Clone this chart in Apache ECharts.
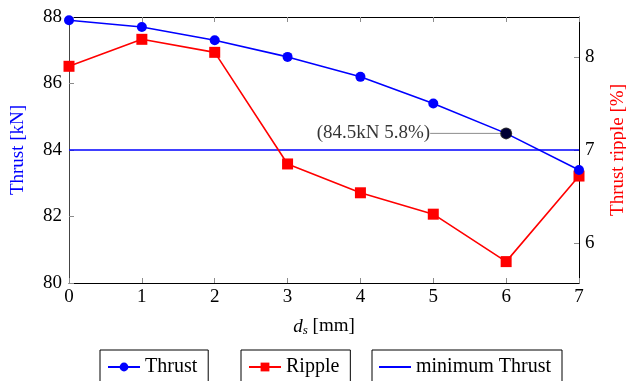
<!DOCTYPE html>
<html>
<head>
<meta charset="utf-8">
<script src="https://cdn.jsdelivr.net/npm/echarts@6/dist/echarts.min.js"></script>
<style>
  html, body { margin: 0; padding: 0; background: #fff; }
  #chart { width: 626px; height: 381px; }
</style>
</head>
<body>
<div id="chart"></div>
<script>
// Air-gap offset d_s in mm
const offsets = [0, 1, 2, 3, 4, 5, 6, 7];
// Mean thrust in kN
const thrust = [87.9, 87.7, 87.3, 86.8, 86.2, 85.4, 84.5, 83.4];
// Thrust ripple in %
const ripple = [7.90, 8.19, 8.05, 6.85, 6.54, 6.31, 5.8, 6.72];
// Required minimum thrust in kN
const minimumThrust = 84;
// Chosen design point
const chosenOffset = 6;
const chosenThrust = 84.5;
const chosenRipple = 5.8;
// Tick values
const thrustTicks = [80, 82, 84, 86, 88];
const rippleTicks = [6, 7, 8];

const FONT = '"Liberation Serif", "Times New Roman", serif';
const FS = 19;

const chart = echarts.init(document.getElementById('chart'), null, { renderer: 'canvas' });

const tickStyle = { color: '#8c8c8c', width: 1 };
const legendBase = {
  top: 350,
  padding: [7, 11, 8, 7], itemWidth: 32, itemHeight: 11, itemGap: 6,
  borderColor: '#000', borderWidth: 1, borderRadius: 0,
  textStyle: { fontFamily: FONT, fontSize: 20, color: '#000' }
};

chart.setOption({
  animation: false,
  textStyle: { fontFamily: FONT, fontSize: FS, color: '#000' },
  grid: { left: 69, right: 47, top: 17, bottom: 98, containLabel: false, outerBoundsMode: 'none' },
  legend: [
    Object.assign({}, legendBase, { data: ['Thrust'], left: 100 }),
    Object.assign({}, legendBase, { data: ['Ripple'], left: 241 }),
    Object.assign({}, legendBase, {
      data: [{ name: 'minimum Thrust', icon: 'rect' }], left: 372, itemHeight: 2
    })
  ],
  xAxis: [
    {
      type: 'value', min: 0, max: 7, interval: 1, position: 'bottom',
      name: '{i|d}{s|s} [mm]', nameLocation: 'middle', nameGap: 33,
      nameTextStyle: {
        fontFamily: FONT, fontSize: FS, color: '#000',
        rich: {
          i: { fontFamily: FONT, fontSize: FS, fontStyle: 'italic', color: '#000' },
          s: { fontFamily: FONT, fontSize: 13, fontStyle: 'italic', color: '#000', verticalAlign: 'bottom', padding: [8, 0, 0, 0] }
        }
      },
      axisLine: { show: true, onZero: false, lineStyle: { color: '#000', width: 1 } },
      axisTick: { show: true, inside: true, length: 5, lineStyle: tickStyle },
      axisLabel: { show: true, margin: 5, fontFamily: FONT, fontSize: FS, color: '#000' },
      splitLine: { show: false }
    },
    {
      type: 'value', min: 0, max: 7, interval: 1, position: 'top',
      axisLine: { show: true, onZero: false, lineStyle: { color: '#000', width: 1 } },
      axisTick: { show: true, inside: true, length: 5, lineStyle: tickStyle },
      axisLabel: { show: false },
      splitLine: { show: false }
    }
  ],
  yAxis: [
    {
      type: 'value', min: 80, max: 88, interval: 2, position: 'left',
      name: 'Thrust [kN]', nameLocation: 'middle', nameGap: 41, nameRotate: 90,
      nameTextStyle: { fontFamily: FONT, fontSize: FS, color: '#0000ff' },
      axisLine: { show: true, onZero: false, lineStyle: { color: '#444', width: 1 } },
      axisTick: { show: true, inside: true, length: 5, lineStyle: tickStyle },
      axisLabel: { show: true, margin: 7, fontFamily: FONT, fontSize: FS, color: '#000',
        customValues: thrustTicks },
      splitLine: { show: false }
    },
    {
      type: 'value', min: 5.57, max: 8.43, position: 'right',
      name: 'Thrust ripple [%]', nameLocation: 'middle', nameGap: 30, nameRotate: 90,
      nameTextStyle: { fontFamily: FONT, fontSize: FS, color: '#ff0000' },
      axisLine: { show: true, onZero: false, lineStyle: { color: '#000', width: 1 } },
      axisTick: { show: true, inside: true, length: 5, lineStyle: tickStyle, customValues: rippleTicks },
      axisLabel: { show: true, margin: 6, fontFamily: FONT, fontSize: FS, color: '#000',
        customValues: rippleTicks },
      splitLine: { show: false }
    }
  ],
  series: [
    {
      name: 'minimum Thrust', type: 'line', xAxisIndex: 0, yAxisIndex: 0,
      data: [[offsets[0], minimumThrust], [offsets[offsets.length - 1], minimumThrust]],
      symbol: 'none', lineStyle: { color: '#0000ff', width: 1.6 }, itemStyle: { color: '#0000ff' },
      z: 2
    },
    {
      name: 'Ripple', type: 'line', xAxisIndex: 0, yAxisIndex: 1,
      data: offsets.map((x, i) => [x, ripple[i]]),
      symbol: 'rect', symbolSize: 11,
      lineStyle: { color: '#ff0000', width: 1.6 }, itemStyle: { color: '#ff0000' },
      z: 3
    },
    {
      name: 'Thrust', type: 'line', xAxisIndex: 0, yAxisIndex: 0,
      data: offsets.map((x, i) => [x, thrust[i]]),
      symbol: 'circle', symbolSize: 10,
      lineStyle: { color: '#0000ff', width: 1.6 }, itemStyle: { color: '#0000ff' },
      z: 4
    },
    {
      name: 'design point', type: 'scatter', xAxisIndex: 0, yAxisIndex: 0,
      data: [[chosenOffset, chosenThrust]],
      symbol: 'circle', symbolSize: 12,
      itemStyle: { color: '#000' },
      label: {
        show: true, position: 'left', distance: 6,
        formatter: () => `(${chosenThrust}kN ${chosenRipple}%)`,
        fontFamily: FONT, fontSize: FS, color: '#000'
      },
      labelLayout: { dx: -64 },
      labelLine: { show: true, lineStyle: { color: '#8c8c8c', width: 1 } },
      z: 5
    }
  ]
});
</script>
</body>
</html>
